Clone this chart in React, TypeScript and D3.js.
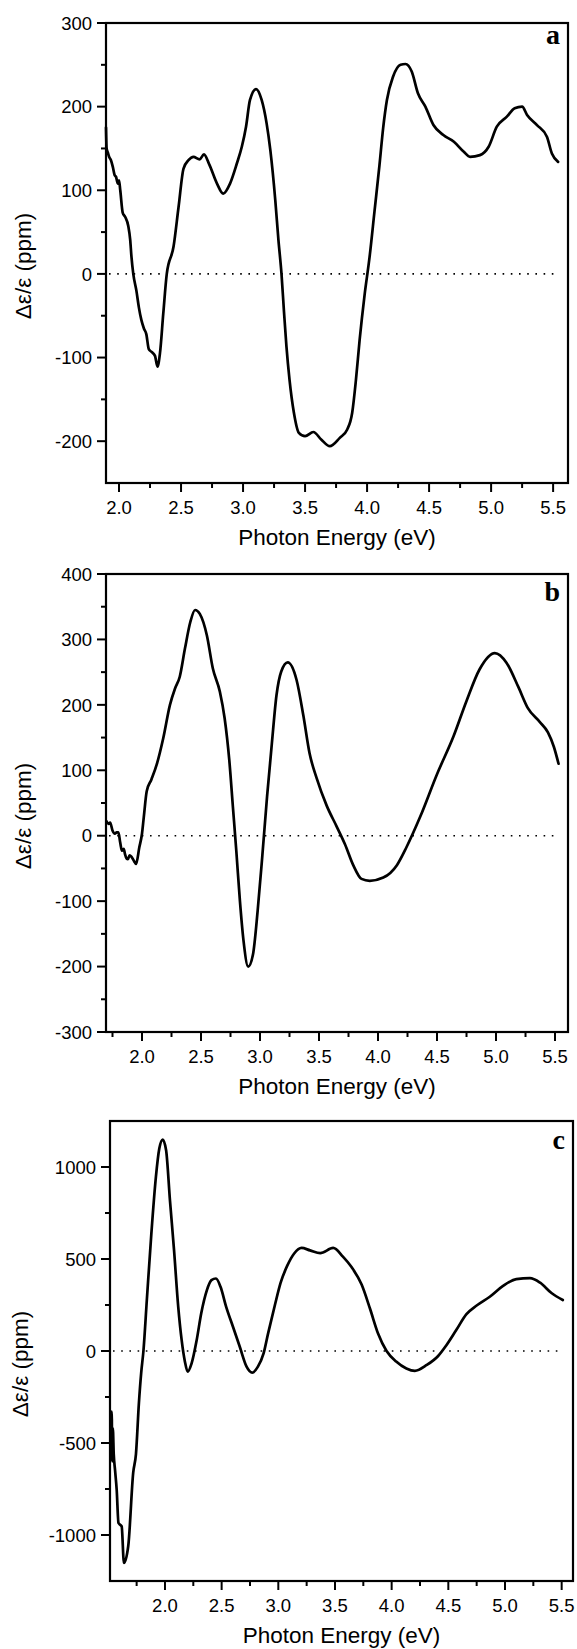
import React from "react";
import * as d3 from "d3";

// ---------- data ----------
const energyA = [1.895, 1.9, 1.91, 1.92, 1.935, 1.95, 1.965, 1.976, 1.99, 2.0, 2.01, 2.03, 2.05, 2.075, 2.09, 2.1, 2.115, 2.14, 2.16, 2.18, 2.2, 2.22, 2.24, 2.26, 2.29, 2.31, 2.33, 2.357, 2.385, 2.44, 2.48, 2.52, 2.56, 2.6, 2.65, 2.685, 2.73, 2.79, 2.84, 2.895, 2.95, 2.99, 3.024, 3.056, 3.105, 3.15, 3.19, 3.22, 3.26, 3.285, 3.31, 3.33, 3.35, 3.375, 3.41, 3.45, 3.5, 3.567, 3.63, 3.7, 3.78, 3.84, 3.88, 3.91, 3.94, 3.98, 4.02, 4.06, 4.1, 4.13, 4.16, 4.21, 4.27, 4.31, 4.36, 4.41, 4.47, 4.535, 4.615, 4.7, 4.78, 4.83, 4.91, 4.98, 5.046, 5.127, 5.19, 5.25, 5.29, 5.37, 5.45, 5.49, 5.54];
const valueA = [175, 150, 145, 140, 136, 128, 118, 116, 108, 112, 100, 73, 68, 57, 41, 21, 0, -20, -40, -55, -65, -72, -90, -93, -98, -111, -95, -47, 0, 33, 80, 126, 136, 140, 137, 143, 130, 108, 96, 108, 132, 152, 176, 208, 221, 208, 180, 148, 88, 41, 0, -45, -87, -127, -166, -190, -194, -189, -198, -206, -196, -186, -166, -127, -79, -25, 20, 75, 130, 175, 208, 236, 250, 251, 242, 216, 200, 178, 166, 158, 146, 140, 142, 152, 176, 188, 198, 200, 190, 178, 164, 144, 134];

const energyB = [1.7, 1.715, 1.73, 1.75, 1.77, 1.785, 1.8, 1.815, 1.83, 1.845, 1.856, 1.87, 1.88, 1.895, 1.91, 1.93, 1.95, 1.977, 2.0, 2.015, 2.04, 2.08, 2.125, 2.18, 2.237, 2.28, 2.32, 2.364, 2.41, 2.45, 2.49, 2.55, 2.6, 2.66, 2.7, 2.74, 2.77, 2.8, 2.83, 2.86, 2.9, 2.94, 2.98, 3.02, 3.06, 3.1, 3.14, 3.18, 3.235, 3.31, 3.367, 3.42, 3.48, 3.565, 3.65, 3.72, 3.79, 3.86, 3.93, 4.045, 4.16, 4.24, 4.36, 4.5, 4.64, 4.75, 4.86, 4.99, 5.09, 5.19, 5.27, 5.37, 5.44, 5.49, 5.53];
const valueB = [22, 18, 20, 8, 3, 5, 5, -10, -23, -20, -28, -35, -36, -30, -32, -38, -43, -18, 3, 28, 68, 86, 109, 149, 200, 225, 243, 286, 327, 345, 339, 306, 256, 220, 180, 115, 45, -25, -100, -160, -200, -182, -115, -30, 60, 140, 215, 251, 265, 238, 184, 126, 88, 46, 14, -13, -45, -66, -69, -64, -45, -18, 30, 94, 152, 206, 254, 279, 264, 227, 195, 174, 158, 136, 110];

const energyC = [1.524, 1.53, 1.535, 1.54, 1.548, 1.56, 1.574, 1.59, 1.618, 1.638, 1.676, 1.72, 1.744, 1.77, 1.79, 1.81, 1.84, 1.88, 1.92, 1.95, 1.98, 2.01, 2.044, 2.08, 2.117, 2.147, 2.176, 2.2, 2.235, 2.28, 2.32, 2.37, 2.41, 2.45, 2.49, 2.54, 2.6, 2.66, 2.72, 2.77, 2.82, 2.87, 2.91, 2.97, 3.02, 3.08, 3.14, 3.205, 3.28, 3.37, 3.484, 3.57, 3.646, 3.735, 3.81, 3.88, 3.955, 4.04, 4.13, 4.205, 4.31, 4.41, 4.48, 4.57, 4.66, 4.75, 4.866, 4.98, 5.1, 5.22, 5.31, 5.41, 5.51];
const valueC = [-360, -330, -600, -420, -560, -650, -754, -935, -953, -1152, -1060, -660, -560, -283, -120, 0, 277, 639, 946, 1100, 1149, 1091, 819, 548, 240, 60, -58, -112, -67, 60, 205, 331, 385, 394, 349, 240, 132, 23, -85, -118, -85, -13, 96, 250, 370, 465, 530, 560, 547, 532, 560, 513, 456, 361, 228, 95, 0, -57, -95, -108, -76, -27, 29, 114, 200, 247, 295, 352, 391, 396, 371, 315, 277];

const xMajorTicks = [2.0, 2.5, 3.0, 3.5, 4.0, 4.5, 5.0, 5.5];
const yMajorA = [-200, -100, 0, 100, 200, 300];
const yMajorB = [-300, -200, -100, 0, 100, 200, 300, 400];
const yMajorC = [-1000, -500, 0, 500, 1000];
const panelLetters = ["a", "b", "c"];
const xTitle = "Photon Energy (eV)";
const yTitle = "Δε/ε (ppm)";

// ---------- layout ----------
const panels = [
  { letter: panelLetters[0], energy: energyA, values: valueA, yMajor: yMajorA, yMinorStep: 50,
    left: 106, right: 568, top: 23, bottom: 483, xDomain: [1.895, 5.62], yDomain: [-250, 300], letterDy: 21, yTitleX: 31 },
  { letter: panelLetters[1], energy: energyB, values: valueB, yMajor: yMajorB, yMinorStep: 50,
    left: 106, right: 568, top: 574, bottom: 1032, xDomain: [1.695, 5.61], yDomain: [-300, 400], letterDy: 27, yTitleX: 31 },
  { letter: panelLetters[2], energy: energyC, values: valueC, yMajor: yMajorC, yMinorStep: 250,
    left: 110, right: 573, top: 1121, bottom: 1581, xDomain: [1.515, 5.6], yDomain: [-1250, 1250], letterDy: 28, yTitleX: 28 },
];

const SANS = "'Liberation Sans', Arial, sans-serif";
const SERIF = "'Liberation Serif', 'Times New Roman', serif";

function Panel({ cfg }: { cfg: any }) {
  const x = d3.scaleLinear().domain(cfg.xDomain).range([cfg.left, cfg.right]);
  const y = d3.scaleLinear().domain(cfg.yDomain).range([cfg.bottom, cfg.top]);
  const pts: [number, number][] = cfg.energy.map((e: number, i: number) => [e, cfg.values[i]]);
  const line = d3
    .line<[number, number]>()
    .x((d) => x(d[0]))
    .y((d) => y(d[1]))
    .curve(d3.curveMonotoneX);

  const xMinor = d3
    .range(Math.ceil(cfg.xDomain[0] * 4) / 4, cfg.xDomain[1], 0.25)
    .filter((v) => Math.round(v * 4) % 2 !== 0);
  const yMinor = d3
    .range(Math.ceil(cfg.yDomain[0] / cfg.yMinorStep) * cfg.yMinorStep, cfg.yDomain[1] + 1e-9, cfg.yMinorStep)
    .filter((v) => !cfg.yMajor.includes(v) && v > cfg.yDomain[0] && v < cfg.yDomain[1]);
  const xTicks = xMajorTicks.filter((v) => v >= cfg.xDomain[0] && v <= cfg.xDomain[1]);
  const lastE = cfg.energy[cfg.energy.length - 1];
  const cy = (cfg.top + cfg.bottom) / 2 + 13;
  const cx = (cfg.left + cfg.right) / 2;

  return (
    <g>
      {/* zero line */}
      <line x1={x(cfg.xDomain[0]) + 3} x2={x(lastE)} y1={y(0)} y2={y(0)} stroke="#000" strokeWidth={1.6} strokeDasharray="1.6 6.6" />
      {/* curve */}
      <path d={line(pts) || ""} fill="none" stroke="#000" strokeWidth={2.7} strokeLinejoin="round" strokeLinecap="round" />
      {/* frame */}
      <rect x={cfg.left} y={cfg.top} width={cfg.right - cfg.left} height={cfg.bottom - cfg.top} fill="none" stroke="#000" strokeWidth={2.2} />
      {/* x ticks */}
      {xTicks.map((v) => (
        <g key={"xt" + v}>
          <line x1={x(v)} x2={x(v)} y1={cfg.bottom} y2={cfg.bottom + 9} stroke="#000" strokeWidth={2} />
          <text x={x(v)} y={cfg.bottom + 31} textAnchor="middle" fontFamily={SANS} fontSize={18.5} fill="#000">
            {v.toFixed(1)}
          </text>
        </g>
      ))}
      {xMinor.map((v) => (
        <line key={"xm" + v} x1={x(v)} x2={x(v)} y1={cfg.bottom} y2={cfg.bottom + 5} stroke="#000" strokeWidth={2} />
      ))}
      {/* y ticks */}
      {cfg.yMajor.map((v: number) => (
        <g key={"yt" + v}>
          <line x1={cfg.left - 9} x2={cfg.left} y1={y(v)} y2={y(v)} stroke="#000" strokeWidth={2} />
          <text x={cfg.left - 14} y={y(v)} dy="0.36em" textAnchor="end" fontFamily={SANS} fontSize={18.5} fill="#000">
            {String(v)}
          </text>
        </g>
      ))}
      {yMinor.map((v: number) => (
        <line key={"ym" + v} x1={cfg.left - 5} x2={cfg.left} y1={y(v)} y2={y(v)} stroke="#000" strokeWidth={2} />
      ))}
      {/* titles */}
      <text x={cx} y={cfg.bottom + 62} textAnchor="middle" fontFamily={SANS} fontSize={22.5} fill="#000">
        {xTitle}
      </text>
      <text transform={`translate(${cfg.yTitleX},${cy}) rotate(-90)`} textAnchor="middle" fontFamily={SANS} fontSize={22.5} fill="#000">
        {yTitle}
      </text>
      <text x={cfg.right - 8} y={cfg.top + cfg.letterDy} textAnchor="end" fontFamily={SERIF} fontWeight="bold" fontSize={28} fill="#000">
        {cfg.letter}
      </text>
    </g>
  );
}

export default function App() {
  return (
    <svg width={577} height={1649} style={{ position: "absolute", left: 0, top: 0, background: "#fff" }}>
      <rect x={0} y={0} width={577} height={1649} fill="#fff" />
      {panels.map((p) => (
        <Panel key={p.letter} cfg={p} />
      ))}
    </svg>
  );
}
